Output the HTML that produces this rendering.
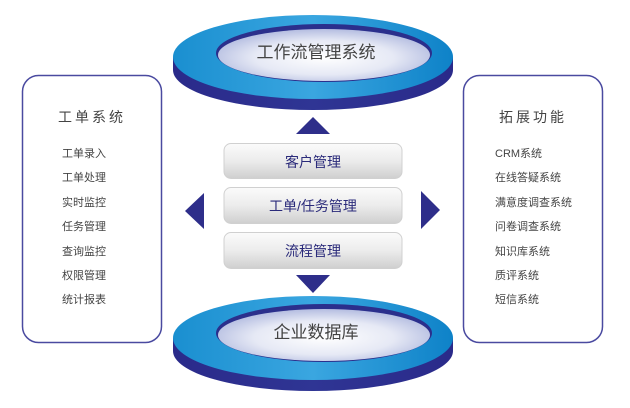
<!DOCTYPE html>
<html><head><meta charset="utf-8"><style>
html,body{margin:0;padding:0;background:#fff;width:630px;height:408px;overflow:hidden}
text{font-family:"Liberation Sans","Noto Sans CJK SC",sans-serif}
</style></head><body>
<svg width="630" height="408" viewBox="0 0 630 408" xmlns="http://www.w3.org/2000/svg">
<defs>
<linearGradient id="face" x1="0" y1="0" x2="1" y2="0">
<stop offset="0" stop-color="#1a8fd0"/><stop offset="0.5" stop-color="#3aa6e0"/><stop offset="1" stop-color="#0e82c8"/>
</linearGradient>
<linearGradient id="rim" x1="0" y1="0" x2="1" y2="0">
<stop offset="0" stop-color="#2a2a8a"/><stop offset="0.5" stop-color="#2f3594"/><stop offset="1" stop-color="#2a2a8a"/>
</linearGradient>
<radialGradient id="inner" cx="0.5" cy="0.55" r="0.6">
<stop offset="0" stop-color="#ffffff"/><stop offset="0.55" stop-color="#e6e9f5"/><stop offset="1" stop-color="#a9b3dc"/>
</radialGradient>
<linearGradient id="btn" x1="0" y1="0" x2="0" y2="1">
<stop offset="0" stop-color="#fbfbfb"/><stop offset="0.5" stop-color="#ececec"/><stop offset="1" stop-color="#cfcfcf"/>
</linearGradient>
</defs>

<!-- top disc -->
<ellipse cx="313" cy="70" rx="140" ry="40" fill="url(#rim)"/>
<rect x="173" y="57" width="280" height="13" fill="url(#rim)"/>
<ellipse cx="313" cy="57" rx="140" ry="42" fill="url(#face)"/>
<ellipse cx="324" cy="53" rx="108" ry="29" fill="#2b2f8c"/>
<ellipse cx="324" cy="55" rx="106" ry="26" fill="url(#inner)"/>
<text x="316" y="58" font-size="17" fill="#444" text-anchor="middle">工作流管理系统</text>

<!-- bottom disc -->
<ellipse cx="313" cy="351" rx="140" ry="40" fill="url(#rim)"/>
<rect x="173" y="338" width="280" height="13" fill="url(#rim)"/>
<ellipse cx="313" cy="338" rx="140" ry="42" fill="url(#face)"/>
<ellipse cx="324" cy="333" rx="108" ry="29" fill="#2b2f8c"/>
<ellipse cx="324" cy="335" rx="106" ry="26" fill="url(#inner)"/>
<text x="316" y="338" font-size="17" fill="#444" text-anchor="middle">企业数据库</text>

<!-- panels -->
<rect x="22.5" y="75.5" width="139" height="267" rx="16" fill="#fff" stroke="#4a4aa0" stroke-width="1.5"/>
<rect x="463.5" y="75.5" width="139" height="267" rx="16" fill="#fff" stroke="#4a4aa0" stroke-width="1.5"/>
<text x="92" y="122" font-size="14" fill="#444" text-anchor="middle" letter-spacing="3">工单系统</text>
<g font-size="11" fill="#444">
<text x="62" y="157">工单录入</text>
<text x="62" y="181">工单处理</text>
<text x="62" y="206">实时监控</text>
<text x="62" y="230">任务管理</text>
<text x="62" y="255">查询监控</text>
<text x="62" y="279">权限管理</text>
<text x="62" y="303">统计报表</text>
</g>
<text x="533" y="122" font-size="14" fill="#444" text-anchor="middle" letter-spacing="3">拓展功能</text>
<g font-size="11" fill="#444">
<text x="495" y="157">CRM系统</text>
<text x="495" y="181">在线答疑系统</text>
<text x="495" y="206">满意度调查系统</text>
<text x="495" y="230">问卷调查系统</text>
<text x="495" y="255">知识库系统</text>
<text x="495" y="279">质评系统</text>
<text x="495" y="303">短信系统</text>
</g>

<!-- buttons -->
<rect x="224" y="143.5" width="178" height="35" rx="7" fill="url(#btn)" stroke="#d0d0d0"/>
<rect x="224" y="187.5" width="178" height="36" rx="7" fill="url(#btn)" stroke="#d0d0d0"/>
<rect x="224" y="232.5" width="178" height="36" rx="7" fill="url(#btn)" stroke="#d0d0d0"/>
<g font-size="14" fill="#2a2a7a" text-anchor="middle">
<text x="313" y="167">客户管理</text>
<text x="313" y="211">工单/任务管理</text>
<text x="313" y="256">流程管理</text>
</g>

<!-- arrows -->
<g fill="#2e2e8a">
<polygon points="296,134 330,134 313,117"/>
<polygon points="296,275 330,275 313,293"/>
<polygon points="204,193 204,229 185,211"/>
<polygon points="421,191 421,229 440,210"/>
</g>
</svg>
</body></html>
